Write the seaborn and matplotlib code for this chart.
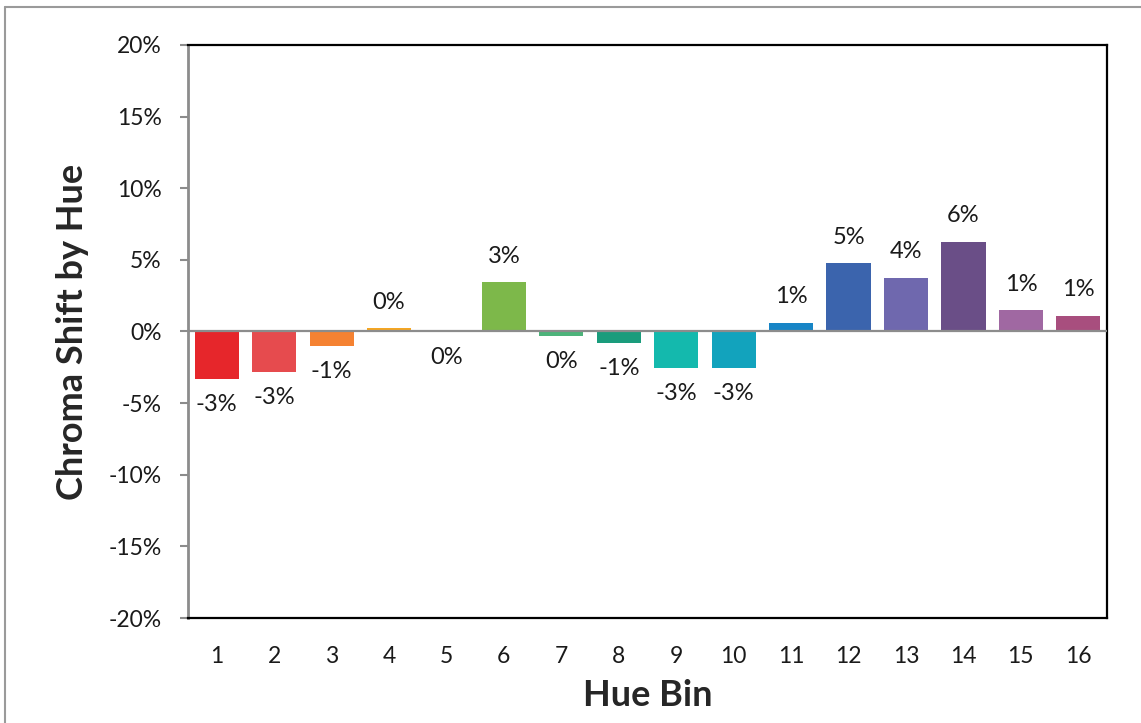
import matplotlib
matplotlib.use("Agg")
import matplotlib.pyplot as plt
import seaborn as sns
import pandas as pd
from matplotlib.lines import Line2D
from matplotlib.ticker import FuncFormatter

sns.set_style("white")
plt.rcParams["font.family"] = ["Lato", "DejaVu Sans"]

hue_bins = [str(i) for i in range(1, 17)]
chroma_shift = [-0.0331, -0.028, -0.010, 0.0025, -0.0003, 0.0343, -0.0030, -0.0077,
                -0.0252, -0.0252, 0.0061, 0.0476, 0.0375, 0.0627, 0.0147, 0.0110]
bar_labels = ["-3%", "-3%", "-1%", "0%", "0%", "3%", "0%", "-1%",
              "-3%", "-3%", "1%", "5%", "4%", "6%", "1%", "1%"]
bar_colors = ["#E6262B", "#E64B4E", "#F58232", "#F5A623", "#F2C12E", "#7DB84A",
              "#4DB37A", "#1A9C7C", "#14B9AD", "#12A3BD", "#1785C6", "#3B64AD",
              "#6F68AE", "#6A4E87", "#A068A2", "#A84E7E"]

df = pd.DataFrame({"bin": hue_bins, "shift": chroma_shift})

fig = plt.figure(figsize=(11.41, 7.23), dpi=100)
ax = fig.add_axes([0.1648, 0.1452, 0.9702 - 0.1648, 0.9378 - 0.1452])

sns.barplot(data=df, x="bin", y="shift", hue="bin", palette=bar_colors,
            width=0.77, legend=False, ax=ax, saturation=1, linewidth=0)

ax.axhline(0, color="#8c8c8c", lw=1.6, zorder=4)

for i, (v, lab) in enumerate(zip(chroma_shift, bar_labels)):
    if v >= 0:
        ax.annotate(lab, (i, v), xytext=(0, 11), textcoords="offset points",
                    ha="center", va="bottom", fontsize=17, color="#1a1a1a")
    else:
        ax.annotate(lab, (i, v), xytext=(0, -11), textcoords="offset points",
                    ha="center", va="top", fontsize=17, color="#1a1a1a")

ax.set_ylim(-0.20, 0.20)
ax.set_xlim(-0.5, 15.5)
ax.set_yticks([-0.20, -0.15, -0.10, -0.05, 0, 0.05, 0.10, 0.15, 0.20])
ax.yaxis.set_major_formatter(FuncFormatter(lambda y, _: f"{y * 100:.0f}%"))

ax.tick_params(axis="y", which="major", left=True, length=6, width=1.5,
               color="#8c8c8c", pad=13, labelsize=16.5, labelcolor="#1a1a1a")
ax.tick_params(axis="x", bottom=False, pad=17, labelsize=16.5, labelcolor="#1a1a1a")

for side in ["top", "right", "bottom"]:
    ax.spines[side].set_color("black")
    ax.spines[side].set_linewidth(1.6)
ax.spines["left"].set_color("#8c8c8c")
ax.spines["left"].set_linewidth(2)

ax.set_xlabel("Hue Bin", fontsize=26, fontweight="bold", labelpad=8)
ax.set_ylabel("Chroma Shift by Hue", fontsize=26, fontweight="bold", labelpad=14)

# outer chart border (only top and left edges are visible in the original)
fig.add_artist(Line2D([5 / 1141, 1.0], [1 - 7 / 723, 1 - 7 / 723],
                      transform=fig.transFigure, color="#9a9a9a", lw=1.5))
fig.add_artist(Line2D([5 / 1141, 5 / 1141], [0.0, 1 - 7 / 723],
                      transform=fig.transFigure, color="#9a9a9a", lw=1.5))

plt.savefig("out.png", dpi=100)
